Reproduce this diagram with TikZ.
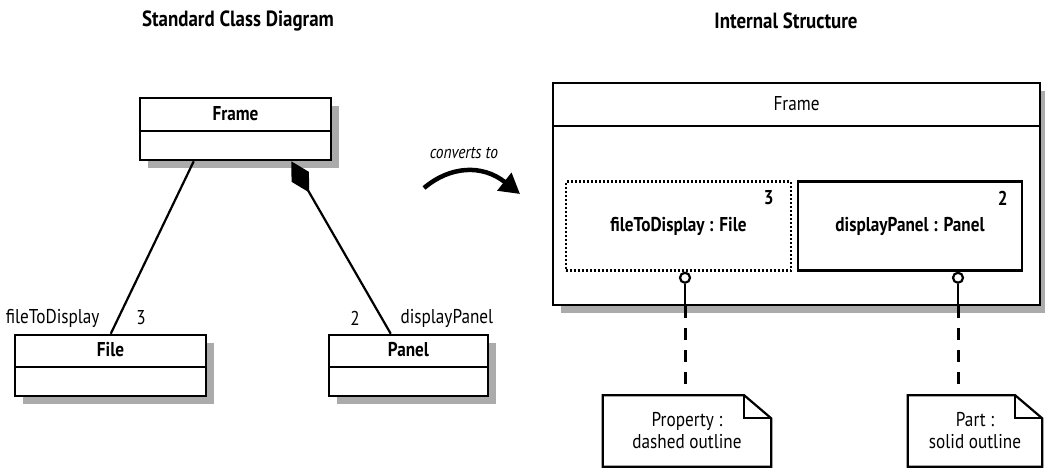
\documentclass[tikz,border=0pt]{standalone}
\usepackage{fontspec}
\setmainfont{PT Sans}[FakeStretch=0.86]
\usetikzlibrary{arrows.meta,positioning,shadows,calc}

\begin{document}
\begin{tikzpicture}[x=1pt, y=-1pt, font=\fontsize{20}{22}\selectfont,
  classbox/.style={draw, line width=2.5pt, fill=white, inner sep=0pt,
    drop shadow={shadow xshift=8pt, shadow yshift=-8pt, fill=black!55, opacity=0.6}},
  classname/.style={font=\fontsize{20}{22}\selectfont\bfseries},
  heading/.style={font=\fontsize{22}{24}\selectfont\bfseries},
  partbox/.style={draw, line width=2.5pt, inner sep=0pt, minimum height=89pt},
  port/.style={circle, draw, line width=2.2pt, fill=white, inner sep=0pt, minimum size=10pt},
  notebox/.style={inner sep=0pt, minimum height=71pt, align=center},
  link/.style={line width=2.2pt},
  anchorline/.style={line width=3pt, dash pattern=on 12pt off 10pt}]
  \useasboundingbox (0,0) rectangle (1045,469);

  % titles
  \node[heading] (titleL) at (238,21) {Standard Class Diagram};
  \node[heading] (titleR) at (786,21) {Internal Structure};

  % standard class diagram
  \node[classbox, minimum width=191pt, minimum height=62pt] (frameC) at (235.5,129) {};
  \draw[link] ([yshift=-34pt]frameC.north west) -- ([yshift=-34pt]frameC.north east);
  \node[classname] at ([yshift=-17pt]frameC.north) {Frame};

  \node[classbox, minimum width=191pt, minimum height=61pt] (fileC) at (110.5,365.5) {};
  \draw[link] ([yshift=-33pt]fileC.north west) -- ([yshift=-33pt]fileC.north east);
  \node[classname] at ([yshift=-16pt]fileC.north) {File};

  \node[classbox, minimum width=159pt, minimum height=61pt] (panelC) at (408.5,365.5) {};
  \draw[link] ([yshift=-33pt]panelC.north west) -- ([yshift=-33pt]panelC.north east);
  \node[classname] at ([yshift=-16pt]panelC.north) {Panel};

  \draw[link] ([xshift=55pt]frameC.south west) -- ([xshift=97pt]fileC.north west);
  \draw[link, {Diamond[length=36pt,width=20pt]}-] ([xshift=-41pt]frameC.south east)
    -- ([xshift=63pt]panelC.north west);

  \node[anchor=east] (roleF) at (103,318) {fileToDisplay};
  \node (multF) at (141,318) {3};
  \node (multP) at (355,318) {2};
  \node[anchor=west] (roleP) at (397,318) {displayPanel};

  % converts to
  \node[font=\fontsize{18}{20}\selectfont\itshape] (conv) at (464,153) {converts to};
  \coordinate (convA) at (424,188);
  \coordinate (convB) at (520,194);
  \draw[line width=4.5pt, -{Triangle[length=20pt,width=22pt]}] (convA)
    .. controls (450,166) and (482,164) .. (convB);

  % internal structure
  \node[classbox, minimum width=487pt, minimum height=222pt] (frameI) at (796.5,194) {};
  \draw[link] ([yshift=-44pt]frameI.north west) -- ([yshift=-44pt]frameI.north east);
  \node at ([yshift=-22pt]frameI.north) {Frame};

  \node[partbox, minimum width=225pt, dash pattern=on 2pt off 2pt] (fileP) at (678.5,226) {};
  \node[classname] at (fileP.center) {fileToDisplay : File};
  \node[classname, anchor=north east] at ([xshift=-15pt,yshift=-7pt]fileP.north east) {3};

  \node[partbox, minimum width=224pt] (panelP) at (910,226) {};
  \node[classname] at (panelP.center) {displayPanel : Panel};
  \node[classname, anchor=north east] at ([xshift=-12pt,yshift=-7pt]panelP.north east) {2};

  \node[port] (portF) at ([xshift=6.5pt,yshift=-6pt]fileP.south) {};
  \node[port] (portP) at ([xshift=48pt,yshift=-6pt]panelP.south) {};
  \draw[link] (portF) -- (portF |- frameI.south);
  \draw[link] (portP) -- (portP |- frameI.south);

  % notes
  \node[notebox, minimum width=168pt] (noteF) at (687,431) {Property :\\dashed outline};
  \node[notebox, minimum width=134pt] (noteP) at (975,431) {Part :\\solid outline};
  \foreach \n in {noteF,noteP}{
    \draw[link] (\n.north west) -- ([xshift=-27pt]\n.north east)
      -- ([yshift=-23pt]\n.north east) -- (\n.south east) -- (\n.south west) -- cycle;
    \draw[link] ([xshift=-27pt]\n.north east) |- ([yshift=-23pt]\n.north east);
  }

  \draw[anchorline] (portF |- frameI.south) -- (portF |- noteF.north);
  \draw[anchorline] (portP |- frameI.south) -- (portP |- noteP.north);
\end{tikzpicture}
\end{document}
